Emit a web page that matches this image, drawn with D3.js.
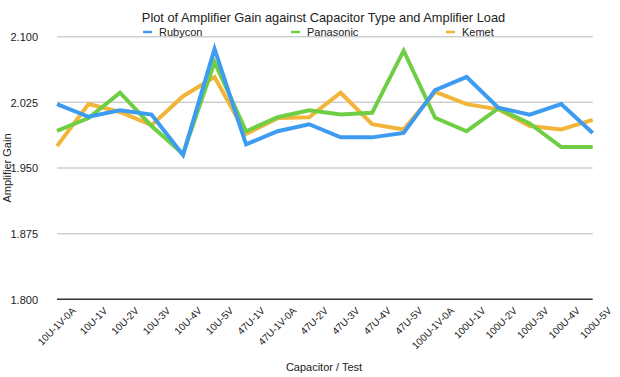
<!DOCTYPE html>
<html>
<head>
<meta charset="utf-8">
<script src="https://cdn.jsdelivr.net/npm/d3@7"></script>
<style>
  html, body { margin: 0; padding: 0; background: #fff; }
  svg text { font-family: "Liberation Sans", Arial, Helvetica, sans-serif; fill: #222; }
</style>
</head>
<body>
<svg id="chart" width="620" height="377"></svg>
<script>
const categories = ["10U-1V-0A","10U-1V","10U-2V","10U-3V","10U-4V","10U-5V","47U-1V","47U-1V-0A","47U-2V","47U-3V","47U-4V","47U-5V","100U-1V-0A","100U-1V","100U-2V","100U-3V","100U-4V","100U-5V"];
const rubycon   = [2.023, 2.0085, 2.016, 2.011, 1.965, 2.086, 1.977, 1.992, 2.000, 1.985, 1.985, 1.990, 2.039, 2.054, 2.019, 2.011, 2.023, 1.990];
const panasonic = [1.9925, 2.007, 2.036, 1.998, 1.966, 2.071, 1.992, 2.008, 2.016, 2.011, 2.013, 2.084, 2.0074, 1.992, 2.018, 2.001, 1.974, 1.974];
const kemet     = [1.975, 2.023, 2.014, 1.999, 2.032, 2.054, 1.989, 2.007, 2.008, 2.036, 2.000, 1.994, 2.037, 2.023, 2.017, 1.998, 1.994, 2.005];
const seriesNames = ["Rubycon","Panasonic","Kemet"];
const yTicks = [1.800, 1.875, 1.950, 2.025, 2.100];
const title = "Plot of Amplifier Gain against Capacitor Type and Amplifier Load";
const xTitle = "Capacitor / Test";
const yTitle = "Amplifier Gain";

const colors = ["#3d9cf0", "#6fcf44", "#f2b53a"];
const series = [rubycon, panasonic, kemet];

const svg = d3.select("#chart");
const mLeft = 57, mRight = 592.7, mTop = 36.7, mBottom = 299.3;

const x = d3.scalePoint().domain(categories).range([mLeft, mRight]);
const y = d3.scaleLinear().domain([1.8, 2.1]).range([mBottom, mTop]);

// gridlines
svg.append("g").selectAll("line").data(yTicks.filter(t => t > 1.8)).join("line")
  .attr("x1", mLeft).attr("x2", mRight)
  .attr("y1", d => y(d)).attr("y2", d => y(d))
  .attr("stroke", "#cfcfcf").attr("stroke-width", 1.5);

// y axis labels
const yAxis = d3.axisLeft(y).tickValues(yTicks).tickFormat(d3.format(".3f")).tickSize(0).tickPadding(0);
const yg = svg.append("g").attr("transform", `translate(${38},0)`).call(yAxis);
yg.select(".domain").remove();
yg.selectAll("text").attr("font-size", 11).attr("fill", "#222").attr("dy", "0.35em");

// baseline
svg.append("line").attr("x1", mLeft).attr("x2", mRight)
  .attr("y1", y(1.8)).attr("y2", y(1.8))
  .attr("stroke", "#333").attr("stroke-width", 1.5);

// x axis labels
const xAxis = d3.axisBottom(x).tickSize(0).tickPadding(0);
const xg = svg.append("g").attr("transform", `translate(0,${mBottom})`).call(xAxis);
xg.select(".domain").remove();
xg.selectAll("text")
  .attr("font-size", 10).attr("fill", "#222")
  .attr("text-anchor", "end")
  .attr("dy", 0).attr("y", 0)
  .attr("transform", "translate(19,12) rotate(-45)");

// lines (drawn Kemet, Panasonic, Rubycon so blue is on top)
const line = d3.line().x((d, i) => x(categories[i])).y(d => y(d));
[2, 1, 0].forEach(k => {
  svg.append("path").datum(series[k])
    .attr("fill", "none").attr("stroke", colors[k]).attr("stroke-width", 4)
    .attr("stroke-linejoin", "miter").attr("stroke-miterlimit", 10)
    .attr("d", line);
});

// title
svg.append("text").attr("x", 323.5).attr("y", 22).attr("text-anchor", "middle")
  .attr("font-size", 12.8).text(title);

// legend
const legX = [143, 291, 446];
seriesNames.forEach((n, k) => {
  svg.append("line").attr("x1", legX[k]).attr("x2", legX[k] + 9)
    .attr("y1", 32).attr("y2", 32).attr("stroke", colors[k]).attr("stroke-width", 2.5);
  svg.append("text").attr("x", legX[k] + 16).attr("y", 36).attr("font-size", 11).text(n);
});

// axis titles
svg.append("text").attr("x", 324).attr("y", 371).attr("text-anchor", "middle")
  .attr("font-size", 11).text(xTitle);
svg.append("text").attr("transform", "translate(11,168) rotate(-90)").attr("text-anchor", "middle")
  .attr("font-size", 11).text(yTitle);
</script>
</body>
</html>
